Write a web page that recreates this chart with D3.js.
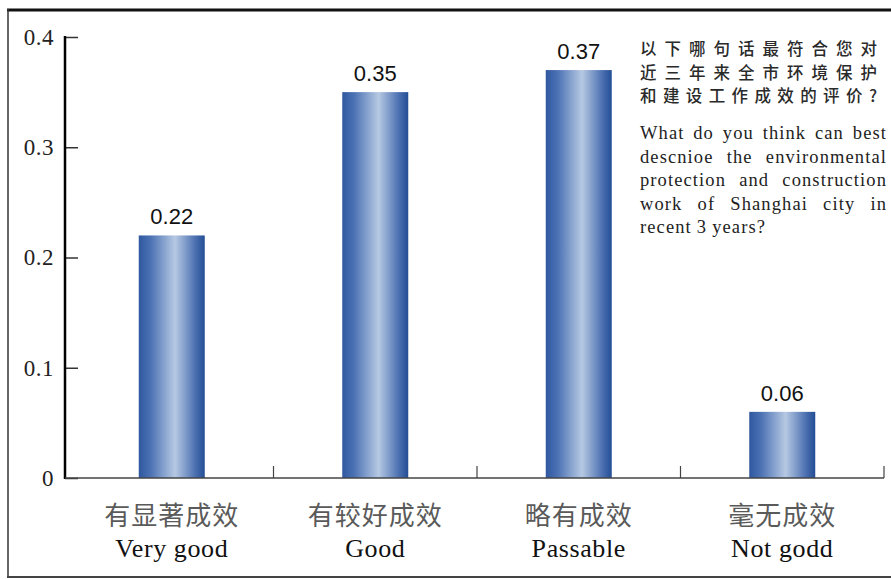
<!DOCTYPE html>
<html>
<head>
<meta charset="utf-8">
<script src="https://cdn.jsdelivr.net/npm/d3@7"></script>
<style>
html,body{margin:0;padding:0;background:#fff;}
svg{display:block;}
</style>
</head>
<body>
<svg id="chart" width="891" height="579"></svg>
<script>
// ---- data ----
const categoriesZh = ["有显著成效", "有较好成效", "略有成效", "毫无成效"];
const categoriesEn = ["Very good", "Good", "Passable", "Not godd"];
const values = [0.22, 0.35, 0.37, 0.06];
const yTicks = [0, 0.1, 0.2, 0.3, 0.4];
const yTickLabels = ["0", "0.1", "0.2", "0.3", "0.4"];
const titleZh = ["以下哪句话最符合您对", "近三年来全市环境保护", "和建设工作成效的评价?"];
const titleEn = ["What do you think can best", "descnioe the environmental", "protection and construction", "work of Shanghai city in", "recent 3 years?"];

const svg = d3.select("#chart");
const SERIF = "'Liberation Serif', 'Times New Roman', serif";
const SANS = "'Liberation Sans', Arial, sans-serif";
const CJK = "'Noto Sans CJK SC', sans-serif";

// frame
svg.append("line").attr("x1", 7).attr("x2", 891).attr("y1", 10).attr("y2", 10)
  .attr("stroke", "#111").attr("stroke-width", 3);
svg.append("line").attr("x1", 8).attr("x2", 8).attr("y1", 9).attr("y2", 578)
  .attr("stroke", "#333").attr("stroke-width", 1.5);
svg.append("line").attr("x1", 7).attr("x2", 891).attr("y1", 577).attr("y2", 577)
  .attr("stroke", "#444").attr("stroke-width", 2);

// scales
const x = d3.scaleBand().domain(categoriesEn).range([70, 884]).paddingInner(0).paddingOuter(0);
const y = d3.scaleLinear().domain([0, 0.4]).range([478, 37]);
const barW = 66;

// gradient
const defs = svg.append("defs");
const grad = defs.append("linearGradient").attr("id", "barGrad")
  .attr("x1", "0%").attr("x2", "100%").attr("y1", "0%").attr("y2", "0%");
[[0, "#2f58a0"], [0.18, "#4c72b4"], [0.55, "#b6c9e3"], [0.85, "#4e72b2"], [1, "#234d95"]]
  .forEach(([o, c]) => grad.append("stop").attr("offset", o).attr("stop-color", c));

// bars
svg.append("g").selectAll("rect").data(values).join("rect")
  .attr("x", (d, i) => x(categoriesEn[i]) + x.bandwidth() / 2 - barW / 2)
  .attr("width", barW)
  .attr("y", d => y(d))
  .attr("height", d => y(0) - y(d))
  .attr("fill", "url(#barGrad)");

// value labels
svg.append("g").selectAll("text").data(values).join("text")
  .attr("x", (d, i) => x(categoriesEn[i]) + x.bandwidth() / 2)
  .attr("y", d => y(d) - 11)
  .attr("text-anchor", "middle")
  .style("font-family", SANS)
  .style("font-size", "22px")
  .attr("fill", "#111")
  .text(d => d.toFixed(2));

// y axis
const yAxis = d3.axisRight(y).tickValues(yTicks).tickSize(13)
  .tickFormat((d, i) => yTickLabels[i]);
const gy = svg.append("g").attr("transform", "translate(65,0)").call(yAxis);
gy.attr("font-family", null).attr("font-size", null);
gy.select(".domain").remove();
gy.selectAll(".tick line").attr("stroke", "#333").attr("stroke-width", 1.5);
gy.selectAll(".tick text").attr("x", -11).attr("text-anchor", "end")
  .style("font-family", SERIF)
  .style("font-size", "23px")
  .style("letter-spacing", "0.5px")
  .attr("fill", "#222");
svg.append("line").attr("x1", 65).attr("x2", 65).attr("y1", y(0.4) - 1).attr("y2", y(0) + 1)
  .attr("stroke", "#000").attr("stroke-width", 2.5);

// x axis
svg.append("line").attr("x1", 65).attr("x2", x.range()[1]).attr("y1", y(0)).attr("y2", y(0))
  .attr("stroke", "#444").attr("stroke-width", 1.5);
svg.append("g").selectAll("line").data(categoriesEn).join("line")
  .attr("x1", d => x(d) + x.bandwidth()).attr("x2", d => x(d) + x.bandwidth())
  .attr("y1", y(0)).attr("y2", y(0) - 12)
  .attr("stroke", "#444").attr("stroke-width", 1.2);

// x labels
const gx = svg.append("g");
gx.selectAll("text.zh").data(categoriesZh).join("text").attr("class", "zh")
  .attr("x", (d, i) => x(categoriesEn[i]) + x.bandwidth() / 2)
  .attr("y", 525)
  .attr("text-anchor", "middle")
  .style("font-family", CJK)
  .style("font-size", "26px")
  .style("letter-spacing", "1px")
  .attr("fill", "#5a5a5a")
  .text(d => d);
gx.selectAll("text.en").data(categoriesEn).join("text").attr("class", "en")
  .attr("x", d => x(d) + x.bandwidth() / 2)
  .attr("y", 557)
  .attr("text-anchor", "middle")
  .style("font-family", SERIF)
  .style("font-size", "26px")
  .style("letter-spacing", "0.6px")
  .attr("fill", "#111")
  .text(d => d);

// annotation text block
const tx0 = 640, tx1 = 887;
const gz = svg.append("g");
titleZh.forEach((line, i) => {
  gz.append("text")
    .attr("x", tx0).attr("y", 55 + i * 23.7)
    .style("font-family", CJK)
    .style("font-size", "16.5px")
    .style("font-weight", 500)
    .attr("fill", "#2a2a2a")
    .attr("textLength", 237)
    .attr("lengthAdjust", "spacing")
    .text(line);
});
const ge = svg.append("g");
titleEn.forEach((line, i) => {
  const yy = 139 + i * 23.6;
  const words = line.split(" ");
  const last = i === titleEn.length - 1;
  const nodes = words.map(w => ge.append("text")
    .attr("y", yy)
    .style("font-family", SERIF)
    .style("font-size", "18.5px")
    .style("letter-spacing", "1.1px")
    .attr("fill", "#222")
    .text(w));
  const widths = nodes.map(n => n.node().getComputedTextLength());
  const total = d3.sum(widths);
  const gap = last ? 5 : (tx1 - tx0 - total) / (words.length - 1);
  let cx = tx0;
  nodes.forEach((n, k) => { n.attr("x", cx); cx += widths[k] + gap; });
});
</script>
</body>
</html>
